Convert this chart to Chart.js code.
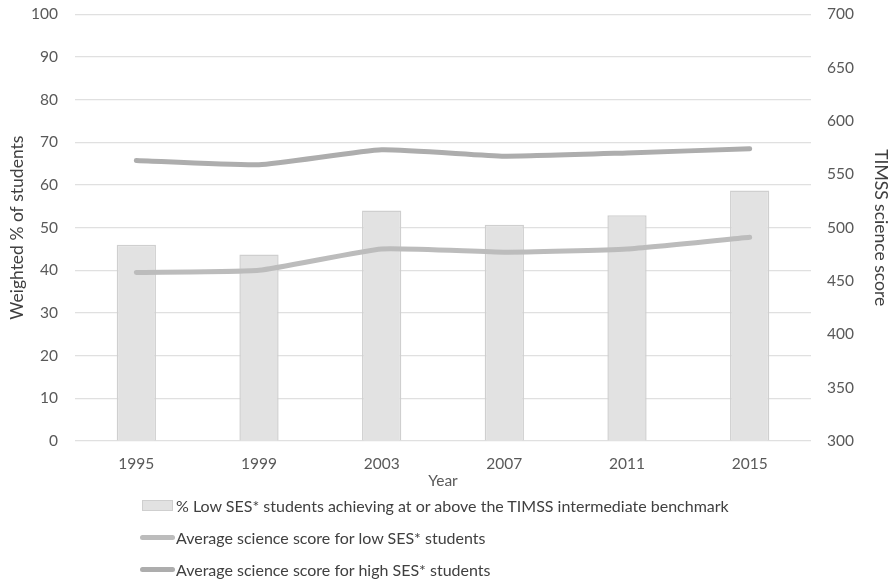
<!DOCTYPE html>
<html>
<head>
<meta charset="utf-8">
<script src="https://cdn.jsdelivr.net/npm/chart.js@4/dist/chart.umd.min.js"></script>
<style>
  body { margin: 0; background: #fff; font-family: Lato, "Open Sans", sans-serif; overflow: hidden; }
  #wrap { position: relative; width: 893px; height: 584px; overflow: hidden; }
  #box { position: absolute; left: 0; top: -12px; width: 893px; height: 512px; }
  #legend { position: absolute; left: 140px; top: 489px; color: #404040; font-size: 16px; }
  .item { display: flex; align-items: center; height: 32px; }
  .sw-bar { width: 31px; height: 11px; background: #e2e2e2; border: 1px solid #cfcfcf; box-sizing: border-box; margin-left: 2px; margin-right: 3px; }
  .sw-line { width: 35px; height: 5px; border-radius: 3px; margin-right: 1px; }
</style>
</head>
<body>
<div id="wrap">
  <div id="box"><canvas id="chart"></canvas></div>
  <div id="legend"></div>
</div>
<script>
const years = ["1995", "1999", "2003", "2007", "2011", "2015"];
const pctLowAbove = [46.0, 43.7, 54.0, 50.7, 52.9, 58.7];
const scoreLow = [458, 460, 480, 477, 480, 491];
const scoreHigh = [563, 559, 573, 567, 570, 574];
const leftTicks = [0, 100, 10];
const rightTicks = [300, 700, 50];

const labels = [
  "% Low SES* students achieving at or above the TIMSS intermediate benchmark",
  "Average science score for low SES* students",
  "Average science score for high SES* students",
];

const fam = "Lato, 'Open Sans', sans-serif";
const tickFont = { family: fam, size: 15.5 };
const titleFont = { family: fam, size: 17.5 };

new Chart(document.getElementById("chart"), {
  data: {
    labels: years,
    datasets: [
      {
        type: "line",
        label: labels[1],
        data: scoreLow,
        yAxisID: "y2",
        borderColor: "#bcbcbc",
        borderWidth: 5,
        pointRadius: 0,
        tension: 0.15,
        borderCapStyle: "round",
        order: 0,
      },
      {
        type: "line",
        label: labels[2],
        data: scoreHigh,
        yAxisID: "y2",
        borderColor: "#adadad",
        borderWidth: 5,
        pointRadius: 0,
        tension: 0.15,
        borderCapStyle: "round",
        order: 0,
      },
      {
        type: "bar",
        label: labels[0],
        data: pctLowAbove,
        yAxisID: "y",
        backgroundColor: "#e2e2e2",
        borderColor: "#cfcfcf",
        borderWidth: 1.5,
        categoryPercentage: 1,
        barPercentage: 0.32,
        order: 1,
      },
    ],
  },
  options: {
    responsive: true,
    maintainAspectRatio: false,
    animation: false,
    layout: { padding: 0 },
    plugins: { legend: { display: false }, tooltip: { enabled: false } },
    scales: {
      x: {
        grid: { display: false },
        border: { display: false },
        ticks: { color: "#595959", font: tickFont, padding: 6 },
        title: { display: true, text: "Year", color: "#595959", font: tickFont, padding: { top: 0, bottom: 10 } },
        afterFit: (s) => { s.height = 59; },
      },
      y: {
        position: "left",
        min: leftTicks[0],
        max: leftTicks[1],
        ticks: { stepSize: leftTicks[2], color: "#595959", font: tickFont, padding: 17 },
        grid: { color: "#e0e0e0", lineWidth: 1.2, drawTicks: false },
        border: { display: false },
        title: { display: true, text: "Weighted % of students", color: "#404040", font: titleFont, padding: { top: 7, bottom: 0 } },
        afterFit: (s) => { s.width = 75; },
      },
      y2: {
        position: "right",
        min: rightTicks[0],
        max: rightTicks[1],
        ticks: { stepSize: rightTicks[2], color: "#595959", font: tickFont, padding: 16 },
        grid: { display: false, drawTicks: false },
        border: { display: false },
        title: { display: true, text: "TIMSS science score", color: "#404040", font: titleFont, padding: { top: 2, bottom: 0 } },
        afterFit: (s) => { s.width = 82; },
      },
    },
  },
});

const legend = document.getElementById("legend");
const swClass = ["sw-bar", "sw-line", "sw-line"];
const swColors = [null, "#bcbcbc", "#adadad"];
labels.forEach((t, i) => {
  const row = document.createElement("div");
  row.className = "item";
  const sw = document.createElement("span");
  sw.className = swClass[i];
  if (swColors[i]) sw.style.background = swColors[i];
  const txt = document.createElement("span");
  txt.textContent = t;
  row.appendChild(sw);
  row.appendChild(txt);
  legend.appendChild(row);
});
</script>
</body>
</html>
